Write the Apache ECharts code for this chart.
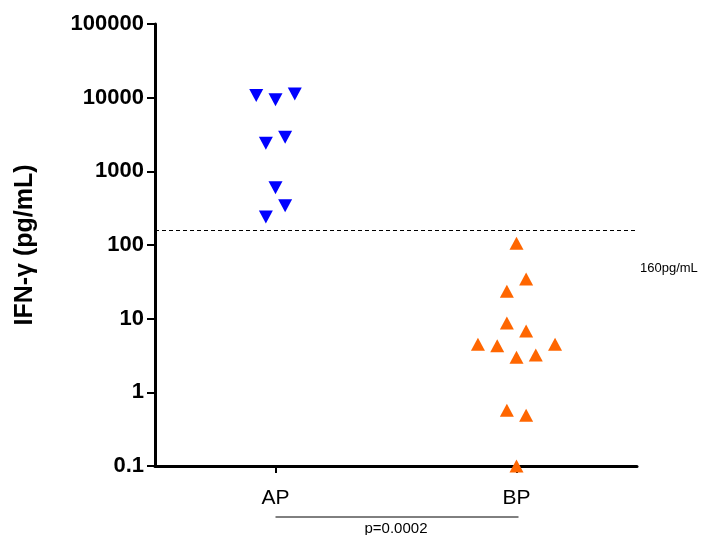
<!DOCTYPE html>
<html>
<head>
<meta charset="utf-8">
<script src="https://cdn.jsdelivr.net/npm/echarts@6/dist/echarts.min.js"></script>
<style>
  html, body { margin: 0; padding: 0; background: #fff; }
  #main { width: 720px; height: 535px; }
</style>
</head>
<body>
<div id="main"></div>
<script>
// groups and where they sit on the x scale
var groups = ['AP', 'BP'];
var groupPos = [1, 2];

// AP values (pg/mL) and their small horizontal jitter
var apValues = [10700, 9400, 11200, 2400, 2900, 600, 340, 240];
var apJitter = [-0.08, 0, 0.08, -0.04, 0.04, 0, 0.04, -0.04];

// BP values (pg/mL) and jitter
var bpValues = [106, 34.5, 23.5, 8.7, 6.8, 4.5, 4.3, 4.5, 3.0, 3.2, 0.57, 0.49, 0.1];
var bpJitter = [0, 0.04, -0.04, -0.04, 0.04, -0.16, -0.08, 0.16, 0, 0.08, -0.04, 0.04, 0];

var cutoff = 160;
var pText = 'p=0.0002';

var font = 'Liberation Sans, Arial, sans-serif';

function pts(vals, jit, pos) {
    return vals.map(function (v, i) { return [pos + jit[i], v]; });
}

var chart = echarts.init(document.getElementById('main'));
var option = {
    animation: false,
    grid: { left: 155, right: 83, top: 24, bottom: 69 },
    xAxis: {
        type: 'value',
        min: 0.5,
        max: 2.5,
        splitLine: { show: false },
        axisLine: { lineStyle: { color: '#000', width: 3 } },
        axisTick: { customValues: groupPos, length: 7, lineStyle: { color: '#000', width: 2 } },
        axisLabel: {
            customValues: groupPos,
            margin: 22,
            fontFamily: font, fontSize: 21, color: '#000',
            formatter: function (v) { return groups[groupPos.indexOf(v)] || ''; }
        }
    },
    yAxis: {
        type: 'log',
        logBase: 10,
        min: 0.1,
        max: 100000,
        name: 'IFN-γ (pg/mL)',
        nameLocation: 'middle',
        nameGap: 117,
        nameTextStyle: { fontFamily: font, fontSize: 25, fontWeight: 'bold', color: '#000' },
        splitLine: { show: false },
        axisLine: { show: true, lineStyle: { color: '#000', width: 3 } },
        axisTick: { show: true, length: 8, lineStyle: { color: '#000', width: 2 } },
        minorTick: { show: false },
        axisLabel: {
            margin: 11,
            fontFamily: font, fontSize: 22, fontWeight: 'bold', color: '#000',
            formatter: function (v) { return String(v); }
        }
    },
    series: [
        {
            name: 'AP',
            type: 'scatter',
            data: pts(apValues, apJitter, groupPos[0]),
            symbol: 'triangle',
            symbolRotate: 180,
            symbolSize: [14, 13],
            itemStyle: { color: '#0000FF', opacity: 1 },
            markLine: {
                silent: true,
                symbol: 'none',
                lineStyle: { color: '#000', type: [4, 3], width: 1 },
                label: { show: false },
                data: [{ yAxis: cutoff }]
            },
            z: 3
        },
        {
            name: 'BP',
            type: 'scatter',
            data: pts(bpValues, bpJitter, groupPos[1]),
            symbol: 'triangle',
            symbolSize: [14, 13],
            itemStyle: { color: '#FF6600', opacity: 1 },
            clip: false,
            z: 4
        }
    ]
};
chart.setOption(option);

// annotations: cutoff label and significance bar
var a = chart.convertToPixel({ gridIndex: 0 }, [groupPos[0], 0.1]);
var b = chart.convertToPixel({ gridIndex: 0 }, [groupPos[1], 0.1]);
var c = chart.convertToPixel({ gridIndex: 0 }, [2.5, cutoff]);
chart.setOption({
    graphic: [
        {
            type: 'text', left: c[0] + 3, top: c[1] + 32,
            style: { text: cutoff + 'pg/mL', font: '13px ' + font, fill: '#000' }
        },
        {
            type: 'line',
            shape: { x1: a[0], y1: a[1] + 51, x2: b[0] + 2, y2: a[1] + 51 },
            style: { stroke: '#000', lineWidth: 1 }
        },
        {
            type: 'text', x: (a[0] + b[0]) / 2, y: a[1] + 55,
            style: { text: pText, font: '15px ' + font, fill: '#000', align: 'center', verticalAlign: 'top' }
        }
    ]
});
</script>
</body>
</html>
